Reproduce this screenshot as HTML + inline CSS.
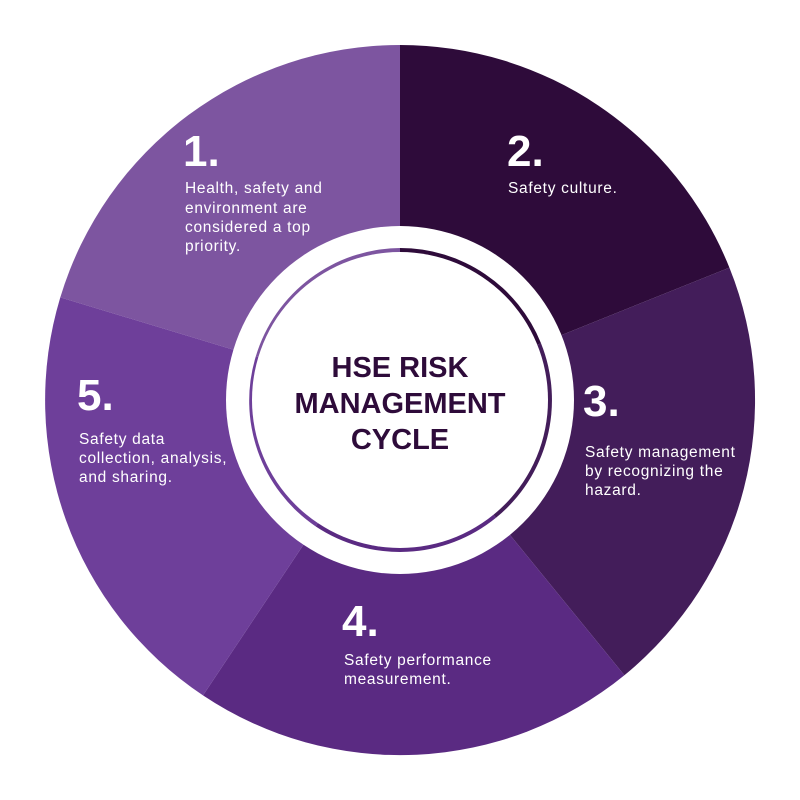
<!DOCTYPE html>
<html><head><style>
html,body{margin:0;padding:0;background:#fff;}
svg{display:block;}
.n{font-family:"Liberation Sans",sans-serif;font-weight:bold;font-size:44px;fill:#fff;}
.t{font-family:"Liberation Sans",sans-serif;font-size:15.5px;letter-spacing:0.7px;fill:#fff;}
.c{font-family:"Liberation Sans",sans-serif;font-weight:bold;font-size:29px;fill:#2e0b3a;text-anchor:middle;}
</style></head><body>
<svg width="800" height="800" viewBox="0 0 800 800">
<path d="M400 400 L60.3 297.4 A355 355 0 0 1 400 45 Z" fill="#7d55a0"/>
<path d="M400 400 L400 45 A355 355 0 0 1 729.4 267.6 Z" fill="#2e0b3a"/>
<path d="M400 400 L729.4 267.6 A355 355 0 0 1 624.4 675.2 Z" fill="#431d5a"/>
<path d="M400 400 L624.4 675.2 A355 355 0 0 1 203 695.4 Z" fill="#5a2a82"/>
<path d="M400 400 L203 695.4 A355 355 0 0 1 60.3 297.4 Z" fill="#6e3f9a"/>
<circle cx="400" cy="400" r="174" fill="#fff"/>
<g>
<path d="M400 400 L255.8 356.4 A152 152 0 0 1 400 248 Z" fill="#7d55a0"/>
<path d="M400 400 L400 248 A152 152 0 0 1 541 343.3 Z" fill="#2e0b3a"/>
<path d="M400 400 L541 343.3 A152 152 0 0 1 496 517.8 Z" fill="#431d5a"/>
<path d="M400 400 L496 517.8 A152 152 0 0 1 315.6 526.4 Z" fill="#5a2a82"/>
<path d="M400 400 L315.6 526.4 A152 152 0 0 1 255.8 356.4 Z" fill="#6e3f9a"/>
</g>
<circle cx="400" cy="400" r="148" fill="#fff"/>
<text class="c" x="400" y="377">HSE RISK</text>
<text class="c" x="400" y="413">MANAGEMENT</text>
<text class="c" x="400" y="449">CYCLE</text>

<text class="n" x="183" y="166">1.</text>
<text class="t" x="185" y="193">Health, safety and</text>
<text class="t" x="185" y="213">environment are</text>
<text class="t" x="185" y="232">considered a top</text>
<text class="t" x="185" y="251">priority.</text>

<text class="n" x="507" y="166">2.</text>
<text class="t" x="508" y="193">Safety culture.</text>

<text class="n" x="583" y="416">3.</text>
<text class="t" x="585" y="457">Safety management</text>
<text class="t" x="585" y="476">by recognizing the</text>
<text class="t" x="585" y="495">hazard.</text>

<text class="n" x="342" y="636">4.</text>
<text class="t" x="344" y="665">Safety performance</text>
<text class="t" x="344" y="684">measurement.</text>

<text class="n" x="77" y="410">5.</text>
<text class="t" x="79" y="444">Safety data</text>
<text class="t" x="79" y="463">collection, analysis,</text>
<text class="t" x="79" y="482">and sharing.</text>
</svg>
</body></html>
